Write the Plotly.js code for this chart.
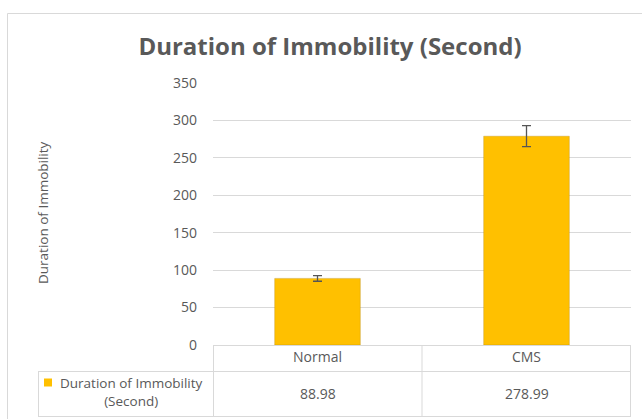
<!DOCTYPE html>
<html>
<head>
<meta charset="utf-8">
<script src="https://cdn.plot.ly/plotly-3.0.1.min.js"></script>
<style>html,body{margin:0;padding:0;background:#fff;}#chart{width:642px;height:419px;}</style>
</head>
<body>
<div id="chart"></div>
<script>
// ---- data ----
var categories = ["Normal", "CMS"];
var durationValues = [88.98, 278.99];
var errorValues = [3.8, 14.0];
var seriesName = "Duration of Immobility (Second)";
var yTickValues = [0, 50, 100, 150, 200, 250, 300, 350];

// ---- geometry helpers (layout only) ----
var W = 642, H = 419;
var L = 213, R = 631, T = 83, B = 345;
function px(x) { return (x - L) / (R - L); }
function py(y) { return (B - y) / (B - T); }

var gridCol = "#d9d9d9";
var textCol = "#595959";
var fontFam = "'Open Sans', sans-serif";

var shapes = [];
function line(x0, y0, x1, y1) {
  shapes.push({type: "line", xref: "paper", yref: "paper",
    x0: px(x0), y0: py(y0), x1: px(x1), y1: py(y1),
    line: {color: gridCol, width: 1}, layer: "below"});
}
// chart border
shapes.push({type: "rect", xref: "paper", yref: "paper",
  x0: px(7.5), y0: py(13.5), x1: px(660), y1: py(440),
  line: {color: gridCol, width: 1}, fillcolor: "rgba(0,0,0,0)", layer: "below"});
// data table
line(213, 345.5, 631, 345.5);
line(38, 371.5, 631, 371.5);
line(38, 416.5, 631, 416.5);
line(38.5, 371.5, 38.5, 416.5);
line(213.5, 345.5, 213.5, 416.5);
shapes.push({type: "line", xref: "x", yref: "paper", x0: 0.5, x1: 0.5,
  y0: py(345.5), y1: py(416.5), line: {color: gridCol, width: 1}});
line(630.5, 345.5, 630.5, 416.5);
// legend key
shapes.push({type: "rect", xref: "paper", yref: "paper",
  x0: px(44), y0: py(378.5), x1: px(52), y1: py(386.5),
  line: {width: 0}, fillcolor: "#FFC000"});

var annotations = [];
categories.forEach(function (c, i) {
  annotations.push({x: c, xref: "x", y: py(393), yref: "paper",
    text: durationValues[i].toFixed(2), showarrow: false,
    xanchor: "center", yanchor: "middle",
    font: {family: fontFam, size: 14, color: textCol}});
});
annotations.push({x: px(131), xref: "paper", y: py(392), yref: "paper",
  text: "Duration of Immobility<br>(Second)", showarrow: false, align: "center",
  xanchor: "center", yanchor: "middle",
  font: {family: fontFam, size: 13.5, color: textCol}});
annotations.push({x: px(43), xref: "paper", y: py(213), yref: "paper",
  text: "Duration of Immobility", textangle: -90, showarrow: false,
  xanchor: "center", yanchor: "middle",
  font: {family: fontFam, size: 13.5, color: textCol}});

var trace = {
  type: "bar",
  x: categories,
  y: durationValues,
  name: seriesName,
  width: 0.41,
  marker: {color: "#FFC000", line: {color: "rgba(150,110,0,0.25)", width: 1}},
  error_y: {type: "data", array: errorValues, visible: true,
    color: "#555555", thickness: 1.3, width: 4.5},
  hoverinfo: "x+y"
};

var layout = {
  width: W, height: H,
  margin: {l: L, r: W - R, t: T, b: H - B, pad: 0},
  paper_bgcolor: "#ffffff",
  plot_bgcolor: "#ffffff",
  showlegend: false,
  title: {text: "<b>Duration of Immobility (Second)</b>",
    font: {family: fontFam, size: 24, color: textCol},
    x: 330 / W, xref: "container", xanchor: "center",
    y: 1 - 47 / H, yref: "container", yanchor: "middle"},
  xaxis: {type: "category", range: [-0.5, 1.5], showgrid: false, zeroline: false,
    showline: false, ticks: "", ticklabelstandoff: 2,
    tickfont: {family: fontFam, size: 14, color: textCol}},
  yaxis: {range: [0, 350], tickvals: yTickValues, showgrid: true, gridcolor: gridCol,
    gridwidth: 1, zeroline: false, showline: false, ticks: "",
    ticklabelstandoff: 15,
    tickfont: {family: fontFam, size: 14, color: textCol}},
  shapes: shapes,
  annotations: annotations,
  font: {family: fontFam, color: textCol}
};

Plotly.newPlot("chart", [trace], layout, {displayModeBar: false, staticPlot: true});
</script>
</body>
</html>
